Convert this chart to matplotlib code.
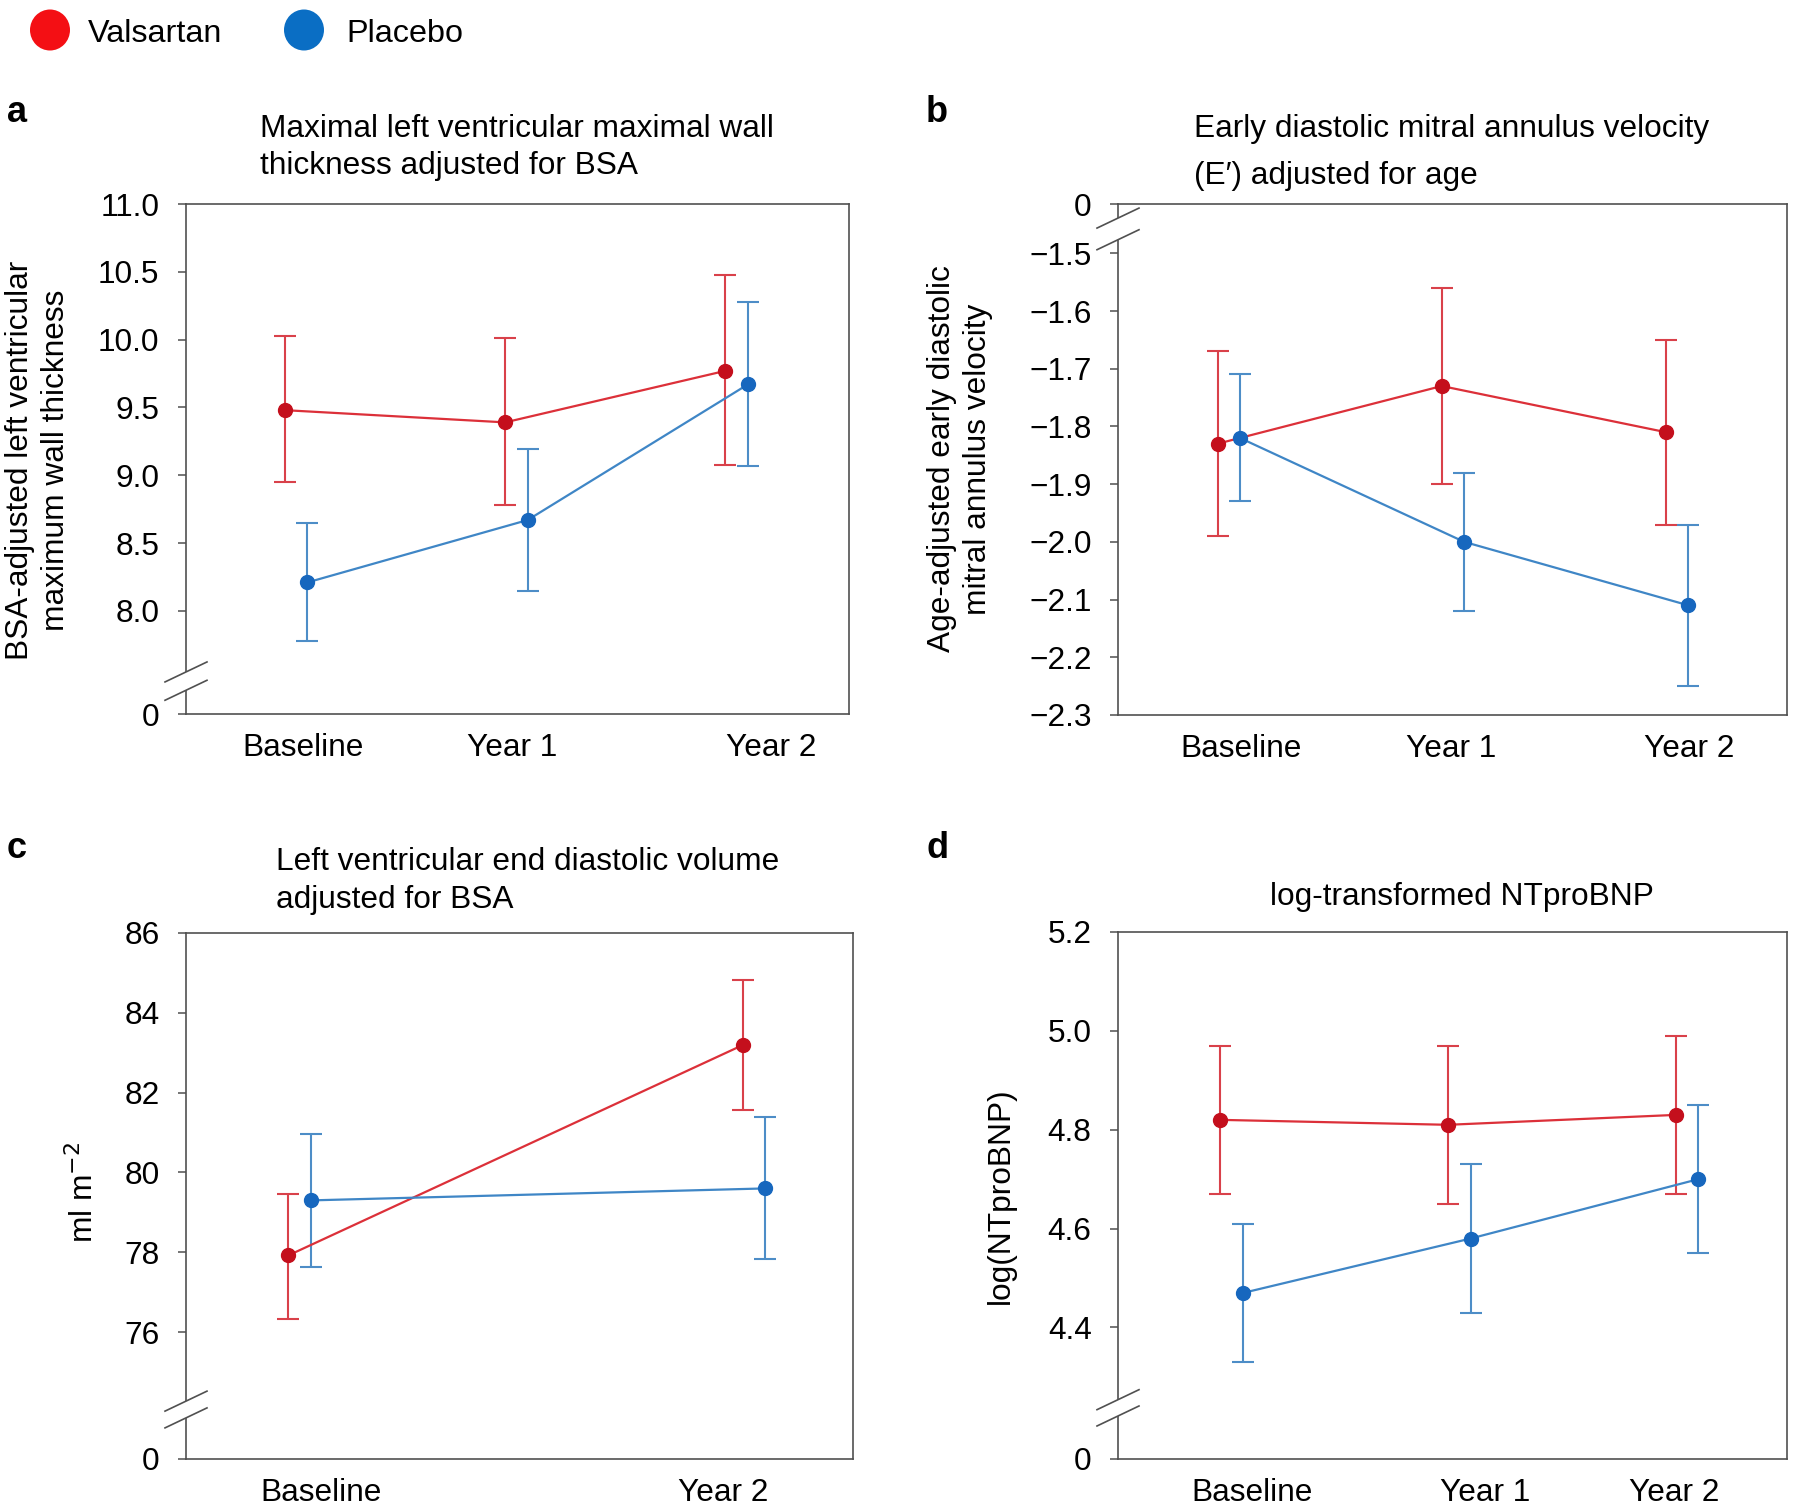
import matplotlib
matplotlib.use("Agg")
import matplotlib.pyplot as plt
from matplotlib.lines import Line2D
from matplotlib.patches import Polygon, Ellipse
import numpy as np

plt.rcParams['font.family'] = ['Liberation Sans', 'DejaVu Sans']
plt.rcParams['axes.unicode_minus'] = True

# ---------------- data ----------------
groups = ["Valsartan", "Placebo"]

# panel a: BSA-adjusted LV maximal wall thickness
a_times = ["Baseline", "Year 1", "Year 2"]
a_val_mean = [9.48, 9.39, 9.77]
a_val_lo = [8.95, 8.78, 9.075]
a_val_hi = [10.025, 10.01, 10.475]
a_pla_mean = [8.21, 8.67, 9.67]
a_pla_lo = [7.775, 8.145, 9.065]
a_pla_hi = [8.65, 9.195, 10.28]
a_yticks = [8.0, 8.5, 9.0, 9.5, 10.0, 10.5, 11.0]

# panel b: age-adjusted E'
b_times = ["Baseline", "Year 1", "Year 2"]
b_val_mean = [-1.83, -1.73, -1.81]
b_val_lo = [-1.99, -1.90, -1.97]
b_val_hi = [-1.67, -1.56, -1.65]
b_pla_mean = [-1.82, -2.00, -2.11]
b_pla_lo = [-1.93, -2.12, -2.25]
b_pla_hi = [-1.71, -1.88, -1.97]
b_yticks = [-2.3, -2.2, -2.1, -2.0, -1.9, -1.8, -1.7, -1.6, -1.5]

# panel c: LVEDV adjusted for BSA
c_times = ["Baseline", "Year 2"]
c_val_mean = [77.92, 83.19]
c_val_lo = [76.34, 81.56]
c_val_hi = [79.47, 84.81]
c_pla_mean = [79.30, 79.60]
c_pla_lo = [77.63, 77.83]
c_pla_hi = [80.96, 81.38]
c_yticks = [76, 78, 80, 82, 84, 86]

# panel d: log NTproBNP
d_times = ["Baseline", "Year 1", "Year 2"]
d_val_mean = [4.82, 4.81, 4.83]
d_val_lo = [4.67, 4.65, 4.67]
d_val_hi = [4.97, 4.97, 4.99]
d_pla_mean = [4.47, 4.58, 4.70]
d_pla_lo = [4.33, 4.43, 4.55]
d_pla_hi = [4.61, 4.73, 4.85]
d_yticks = [4.4, 4.6, 4.8, 5.0, 5.2]

# ---------------- style ----------------
W, H = 1800, 1506
fig = plt.figure(figsize=(W / 100, H / 100), dpi=100)

RED_LINE = '#DC3039'
RED_MK = '#C40F1C'
RED_ERR = '#D9414A'
BLUE_LINE = '#3F86C6'
BLUE_MK = '#1767BE'
BLUE_ERR = '#4D8DC7'
SPINE = '#505050'
FS = 22.8


def px_axes(l, t, r, b):
    return fig.add_axes([l / W, 1 - b / H, (r - l) / W, (b - t) / H])


def ftext(x, y, s, **kw):
    fig.text(x / W, 1 - y / H, s, **kw)


def add_break(ax, ys):
    tr = ax.get_yaxis_transform()
    inv = fig.transFigure.inverted()
    pts = []
    for y in ys:
        px, py = tr.transform((0, y))
        pts.append(((px - 21, py - 10), (px + 21, py + 10)))
    (a1, a2), (b1, b2) = pts
    poly = [inv.transform(p) for p in (a1, a2, b2, b1)]
    fig.add_artist(Polygon(poly, closed=True, transform=fig.transFigure,
                           facecolor='white', edgecolor='none', zorder=10))
    for p1, p2 in pts:
        q1, q2 = inv.transform(p1), inv.transform(p2)
        fig.add_artist(Line2D([q1[0], q2[0]], [q1[1], q2[1]], transform=fig.transFigure,
                              color=SPINE, lw=1.2, zorder=11))


def draw_panel(ax, times, xlim, off, label_pos, ylim, yticks, ytick_labels,
               val, pla, breaks):
    x = np.arange(1, len(times) + 1, dtype=float)
    for (m, lo, hi), dx, lc, mc, ec in [
        (val, -off, RED_LINE, RED_MK, RED_ERR),
        (pla, off, BLUE_LINE, BLUE_MK, BLUE_ERR),
    ]:
        m = np.array(m); lo = np.array(lo); hi = np.array(hi)
        xx = x + dx
        ax.errorbar(xx, m, yerr=[m - lo, hi - m], fmt='none', ecolor=ec,
                    elinewidth=1.5, capsize=8, capthick=1.5, zorder=2)
        ax.plot(xx, m, color=lc, lw=1.6, zorder=3)
        ax.plot(xx, m, 'o', color=mc, ms=10, zorder=4)
    ax.set_xlim(*xlim)
    ax.set_ylim(*ylim)
    ax.set_xticks(x + np.array(label_pos))
    ax.set_xticklabels(times)
    ax.set_yticks(yticks)
    ax.set_yticklabels(ytick_labels)
    ax.tick_params(axis='x', length=0, pad=14, labelsize=FS)
    ax.tick_params(axis='y', length=6, width=1.1, color=SPINE, pad=13, labelsize=FS)
    for s in ax.spines.values():
        s.set_color(SPINE)
        s.set_linewidth(1.2)
    add_break(ax, breaks)


def fmt(v, nd):
    s = f"{v:.{nd}f}"
    return s.replace('-', '\u2212')


# panel a
ax_a = px_axes(186, 204, 849, 714)
a_zero = 7.24
draw_panel(ax_a, a_times, (0.50, 3.51), 0.051, [0.03, -0.018, 0.156],
           (a_zero, 11.0), [a_zero] + a_yticks, ['0'] + [fmt(v, 1) for v in a_yticks],
           (a_val_mean, a_val_lo, a_val_hi), (a_pla_mean, a_pla_lo, a_pla_hi),
           (7.55, 7.415))

# panel b
ax_b = px_axes(1118, 204, 1787, 715)
b_zero = -1.4146
draw_panel(ax_b, b_times, (0.506, 3.49), 0.05, [0.055, -0.008, 0.053],
           (-2.3, b_zero), yticks=b_yticks + [b_zero],
           ytick_labels=[fmt(v, 1) for v in b_yticks] + ['0'],
           val=(b_val_mean, b_val_lo, b_val_hi), pla=(b_pla_mean, b_pla_lo, b_pla_hi),
           breaks=(-1.439, -1.4765))

# panel c
ax_c = px_axes(186, 933, 853, 1459)
c_zero = 72.82
draw_panel(ax_c, c_times, (0.75, 2.218), 0.025, [0.047, -0.068],
           (c_zero, 86), [c_zero] + c_yticks, ['0'] + [str(v) for v in c_yticks],
           (c_val_mean, c_val_lo, c_val_hi), (c_pla_mean, c_pla_lo, c_pla_hi),
           (74.27, 73.85))

# panel d
ax_d = px_axes(1118, 932, 1787, 1459)
d_zero = 4.134
draw_panel(ax_d, d_times, (0.5, 3.44), 0.05, [0.0875, 0.1125, -0.056],
           (d_zero, 5.2), [d_zero] + d_yticks, ['0'] + [fmt(v, 1) for v in d_yticks],
           (d_val_mean, d_val_lo, d_val_hi), (d_pla_mean, d_pla_lo, d_pla_hi),
           (4.254, 4.221))

# titles
ftext(260, 137, "Maximal left ventricular maximal wall", fontsize=FS, ha='left', va='baseline')
ftext(260, 174, "thickness adjusted for BSA", fontsize=FS, ha='left', va='baseline')
ftext(1194, 137, "Early diastolic mitral annulus velocity", fontsize=FS, ha='left', va='baseline')
ftext(1194, 184, "(E\u2032) adjusted for age", fontsize=FS, ha='left', va='baseline')
ftext(276, 870, "Left ventricular end diastolic volume", fontsize=FS, ha='left', va='baseline')
ftext(276, 908, "adjusted for BSA", fontsize=FS, ha='left', va='baseline')
ftext(1462, 905, "log-transformed NTproBNP", fontsize=FS, ha='center', va='baseline')

# y labels
ftext(38, 460, "BSA-adjusted left ventricular\nmaximum wall thickness", fontsize=FS,
      rotation=90, ha='center', va='center', multialignment='center', linespacing=1.3)
ftext(960, 459, "Age-adjusted early diastolic\nmitral annulus velocity", fontsize=FS,
      rotation=90, ha='center', va='center', multialignment='center', linespacing=1.3)
ftext(84, 1192, "ml m$^{\u22122}$", fontsize=FS, rotation=90, ha='center', va='center')
ftext(1001, 1196, "log(NTproBNP)", fontsize=FS, rotation=90, ha='center', va='center')

# panel letters
for lx, ly, s in [(7, 122, 'a'), (926, 122, 'b'), (7, 858, 'c'), (926, 858, 'd')]:
    ftext(lx, ly, s, fontsize=26, fontweight='bold', ha='left', va='baseline')

# legend
for cx, color, tx, name in [(50, '#F40F14', 88, groups[0]), (304, '#0A6EC4', 346, groups[1])]:
    fig.add_artist(Ellipse((cx / W, 1 - 30 / H), 40 / W, 41 / H, transform=fig.transFigure,
                           facecolor=color, edgecolor='none'))
    ftext(tx, 42, name, fontsize=FS + 0.5, ha='left', va='baseline')

fig.savefig('out.png', dpi=100)
